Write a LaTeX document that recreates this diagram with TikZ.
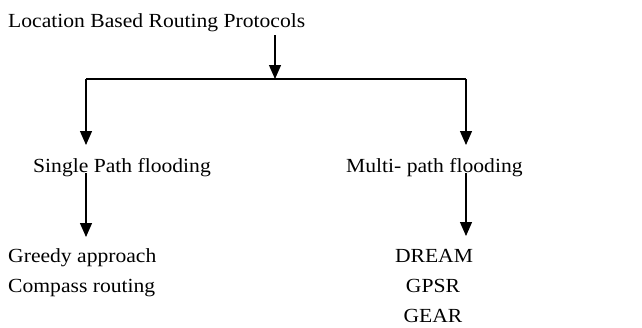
\documentclass[tikz,border=0pt]{standalone}
\usepackage{fontspec}
\setmainfont{Liberation Serif}
\usetikzlibrary{arrows.meta}
\begin{document}
\begin{tikzpicture}[x=1pt,y=1pt,
  label/.style={inner sep=0pt, font=\fontsize{20}{24}\selectfont, xscale=1.08},
  line/.style={line width=1.2pt},
  arr/.style={line, -{Triangle[length=14pt,width=12pt]}}]
  \useasboundingbox (0,0) rectangle (642,-327);
  % texts
  \node[label, anchor=base west] (root) at (8,-27) {Location Based Routing Protocols};
  \node[label, anchor=base west] (single) at (33,-172) {Single Path flooding};
  \node[label, anchor=base west] (multi) at (346,-172) {Multi- path flooding};
  \node[label, anchor=base west] (greedy) at (8,-262) {Greedy approach};
  \node[label, anchor=base west] (compass) at (8,-292) {Compass routing};
  \node[label, anchor=base] (dream) at (434,-262) {DREAM};
  \node[label, anchor=base] (gpsr) at (433,-292) {GPSR};
  \node[label, anchor=base] (gear) at (433,-322) {GEAR};
  % junction points
  \coordinate (rootout) at (275,-35);
  \coordinate (mid) at (275,-79);
  \coordinate (left) at (86,-79);
  \coordinate (right) at (466,-79);
  \coordinate (lin) at (86,-145);
  \coordinate (rin) at (466,-145);
  \coordinate (lout) at (86,-173);
  \coordinate (rout) at (466,-173);
  \coordinate (gin) at (86,-237);
  \coordinate (din) at (466,-236);
  % connectors
  \draw[arr] (rootout) -- (mid);
  \draw[line] (left) -- (right);
  \draw[arr] (left) -- (lin);
  \draw[arr] (right) -- (rin);
  \draw[arr] (lout) -- (gin);
  \draw[arr] (rout) -- (din);
\end{tikzpicture}
\end{document}
